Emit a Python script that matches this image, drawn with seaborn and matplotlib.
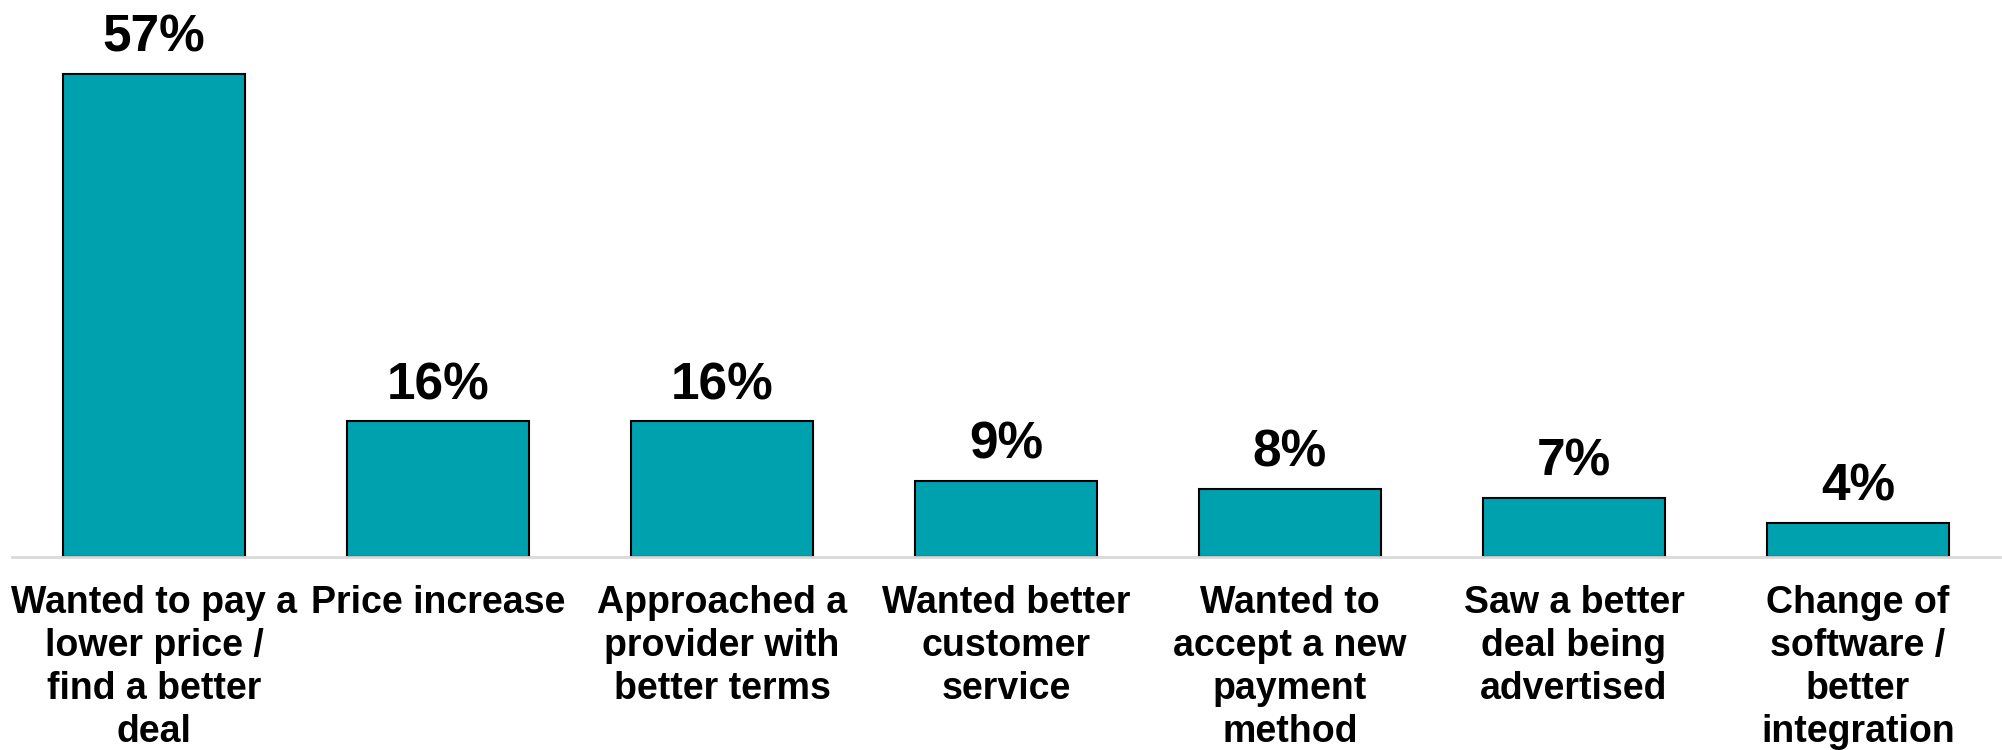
import matplotlib
matplotlib.use("Agg")
import matplotlib.pyplot as plt
import seaborn as sns
import pandas as pd

categories = [
    "Wanted to pay a\nlower price /\nfind a better\ndeal",
    "Price increase",
    "Approached a\nprovider with\nbetter terms",
    "Wanted better\ncustomer\nservice",
    "Wanted to\naccept a new\npayment\nmethod",
    "Saw a better\ndeal being\nadvertised",
    "Change of\nsoftware /\nbetter\nintegration",
]
values = [57, 16, 16, 9, 8, 7, 4]

sns.set_theme(style="white")
plt.rcParams["font.family"] = ["Liberation Sans", "DejaVu Sans"]

df = pd.DataFrame({"reason": categories, "share": values})

fig = plt.figure(figsize=(20.02, 7.5), dpi=100)
ax = fig.add_axes([12 / 2002, 1 - 557 / 750, 1988 / 2002, 557 / 750])

sns.barplot(data=df, x="reason", y="share", color="#00A1AF", saturation=1,
            edgecolor="black", linewidth=1.5, width=0.64, ax=ax)

ax.set_ylim(0, 65.7)
ax.set_xlim(-0.5, len(categories) - 0.5)

for i, v in enumerate(values):
    ax.annotate(f"{v}%", xy=(i, v), xytext=(0, 16), textcoords="offset points",
                ha="center", va="baseline", fontsize=37, fontweight="bold",
                color="black")

for s in ["top", "left", "right"]:
    ax.spines[s].set_visible(False)
ax.spines["bottom"].set_color("#D9D9D9")
ax.spines["bottom"].set_linewidth(2)
ax.set_yticks([])
ax.set_xlabel("")
ax.set_ylabel("")
ax.tick_params(axis="x", length=0, pad=20)
for lbl in ax.get_xticklabels():
    lbl.set_fontsize(27)
    lbl.set_fontweight("bold")
    lbl.set_linespacing(1.25)
    lbl.set_color("black")
    lbl.set_va("top")
    lbl.set_ha("center")

fig.savefig("out.png", dpi=100)
